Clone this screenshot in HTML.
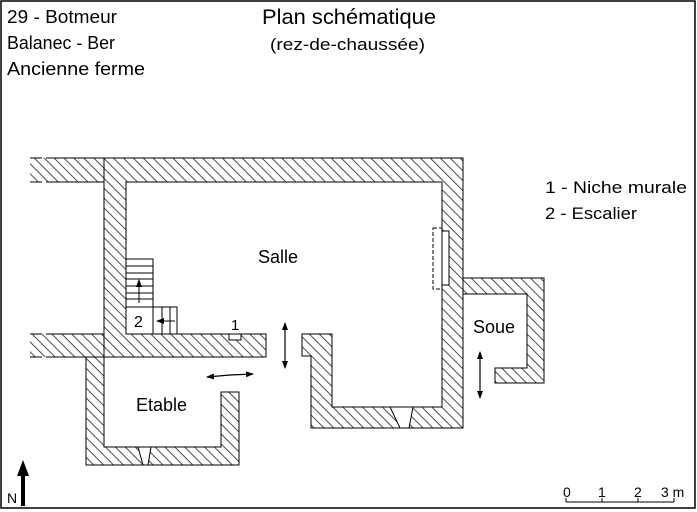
<!DOCTYPE html>
<html><head><meta charset="utf-8"><style>
html,body{margin:0;padding:0;background:#fff}
svg{display:block}
text{font-family:"Liberation Sans",sans-serif;fill:#000}
</style></head><body>
<svg width="697" height="512" viewBox="0 0 697 512" xmlns="http://www.w3.org/2000/svg">
<defs>
<pattern id="h" width="7" height="7" patternUnits="userSpaceOnUse" patternTransform="rotate(45)">
<line x1="0" y1="3.5" x2="7" y2="3.5" stroke="#000" stroke-width="0.7"/>
</pattern>
<marker id="ar" markerWidth="8" markerHeight="6" refX="7" refY="3" orient="auto" markerUnits="userSpaceOnUse">
<path d="M0,0 L8,3 L0,6 z" fill="#000"/>
</marker>
</defs>
<rect x="1" y="1" width="694" height="507" fill="#fff" stroke="#000" stroke-width="1.5"/>

<text x="7" y="23" font-size="18" textLength="110" lengthAdjust="spacingAndGlyphs">29 - Botmeur</text>
<text x="7" y="49" font-size="18" textLength="108" lengthAdjust="spacingAndGlyphs">Balanec - Ber</text>
<text x="7" y="75" font-size="18" textLength="138" lengthAdjust="spacingAndGlyphs">Ancienne ferme</text>
<text x="262" y="24" font-size="21" textLength="174" lengthAdjust="spacingAndGlyphs">Plan schématique</text>
<text x="270" y="50" font-size="17" textLength="155" lengthAdjust="spacingAndGlyphs">(rez-de-chaussée)</text>
<text x="545" y="193" font-size="17" textLength="142" lengthAdjust="spacingAndGlyphs">1 - Niche murale</text>
<text x="545" y="219" font-size="17" textLength="92" lengthAdjust="spacingAndGlyphs">2 - Escalier</text>
<text x="258" y="263" font-size="18">Salle</text>
<text x="136" y="411" font-size="18">Etable</text>
<text x="473" y="333" font-size="18">Soue</text>

<rect x="30" y="158" width="74" height="24" fill="url(#h)"/>
<line x1="30" y1="158" x2="104" y2="158" stroke="#000" stroke-dasharray="12,4,60"/>
<line x1="30" y1="182" x2="104" y2="182" stroke="#000" stroke-dasharray="12,4,60"/>
<rect x="30" y="334" width="74" height="23" fill="url(#h)"/>
<line x1="30" y1="334" x2="104" y2="334" stroke="#000" stroke-dasharray="12,4,60"/>
<line x1="30" y1="357" x2="104" y2="357" stroke="#000" stroke-dasharray="12,4,60"/>

<polygon points="104,158 463,158 463,428 311,428 311,356 302,356 302,334 332,334 332,407 442,407 442,182 126,182 126,334 266,334 266,357 104,357" fill="url(#h)" stroke="#000" stroke-width="1"/>
<polygon points="86,357 104,357 104,447 221,447 221,392 239,392 239,465 86,465" fill="url(#h)" stroke="#000" stroke-width="1"/>
<polygon points="463,278 544,278 544,383 495,383 495,368 527,368 527,294 463,294" fill="url(#h)" stroke="#000" stroke-width="1"/>

<polygon points="138,447 151,447 148,465 143,465" fill="#fff" stroke="#000"/>
<line x1="138" y1="465" x2="152" y2="465" stroke="#000"/>
<polygon points="390,407 413,407 409,428 400,428" fill="#fff" stroke="#000"/>
<line x1="390" y1="428" x2="413" y2="428" stroke="#000"/>

<rect x="442" y="231" width="7" height="54" fill="#fff" stroke="#000"/>
<rect x="433" y="228" width="9" height="61" fill="none" stroke="#000" stroke-dasharray="4,2"/>

<rect x="229" y="334" width="12" height="6" fill="#fff" stroke="#000"/>
<text x="231" y="330" font-size="15">1</text>

<g stroke="#000" fill="#fff">
<rect x="126" y="259" width="27" height="48"/>
<rect x="126" y="307" width="27" height="27"/>
<rect x="153" y="307" width="24" height="27"/>
</g>
<g stroke="#000">
<line x1="126" y1="266" x2="153" y2="266"/>
<line x1="126" y1="273" x2="153" y2="273"/>
<line x1="126" y1="279" x2="153" y2="279"/>
<line x1="126" y1="286" x2="153" y2="286"/>
<line x1="126" y1="293" x2="153" y2="293"/>
<line x1="126" y1="299" x2="153" y2="299"/>
<line x1="162" y1="307" x2="162" y2="334"/>
<line x1="170" y1="307" x2="170" y2="334"/>
<line x1="139" y1="303" x2="139" y2="280" marker-end="url(#ar)"/>
<line x1="175" y1="321" x2="157" y2="321" marker-end="url(#ar)"/>
</g>
<text x="134" y="327" font-size="16">2</text>

<g stroke="#000" stroke-width="1.2">
<line x1="285" y1="345" x2="285" y2="323" marker-end="url(#ar)"/>
<line x1="285" y1="345" x2="285" y2="368" marker-end="url(#ar)"/>
<line x1="230" y1="375" x2="207" y2="377" marker-end="url(#ar)"/>
<line x1="230" y1="375" x2="253" y2="374" marker-end="url(#ar)"/>
<line x1="480" y1="375" x2="480" y2="352" marker-end="url(#ar)"/>
<line x1="480" y1="375" x2="480" y2="398" marker-end="url(#ar)"/>
</g>

<g stroke="#000" stroke-width="1">
<line x1="566" y1="502" x2="674" y2="502"/>
<line x1="566" y1="498" x2="566" y2="502"/>
<line x1="602" y1="498" x2="602" y2="502"/>
<line x1="638" y1="498" x2="638" y2="502"/>
<line x1="674" y1="498" x2="674" y2="502"/>
</g>
<text x="563" y="497" font-size="14">0</text>
<text x="598" y="497" font-size="14">1</text>
<text x="634" y="497" font-size="14">2</text>
<text x="661" y="497" font-size="14">3 m</text>

<line x1="23" y1="470" x2="23" y2="506" stroke="#000" stroke-width="4"/>
<polygon points="23,460 17,476 29,476" fill="#000"/>
<text x="7" y="503" font-size="14">N</text>
</svg>
</body></html>
